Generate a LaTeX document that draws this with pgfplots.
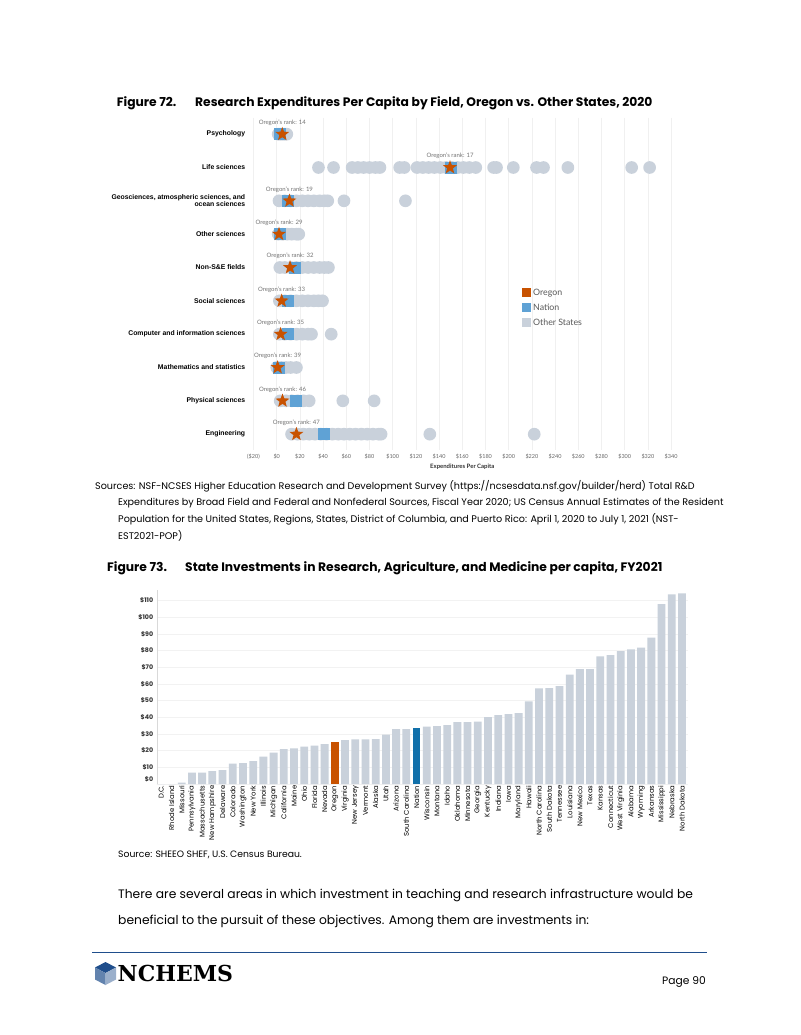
\documentclass[border=0pt]{standalone}
\usepackage{fontspec}
\setmainfont{Poppins}
\newfontfamily\tabfont{Liberation Sans}
\newfontfamily\latofont{Lato}
\newfontfamily\logofont{DejaVu Serif}
\usepackage{pgfplots}
\usepackage{pgfplotstable}
\pgfplotsset{compat=1.18}
\definecolor{orr}{HTML}{C85200}
\definecolor{nat}{HTML}{5FA2D5}
\definecolor{oth}{HTML}{C9D1DB}
\definecolor{natdark}{HTML}{1170AA}
\definecolor{navy}{HTML}{1F4E8C}
\pgfdeclareplotmark{fstar}{%
 \pgfpathmoveto{\pgfpointpolar{90}{\pgfplotmarksize}}%
 \pgfpathlineto{\pgfpointpolar{126}{0.42\pgfplotmarksize}}%
 \pgfpathlineto{\pgfpointpolar{162}{\pgfplotmarksize}}%
 \pgfpathlineto{\pgfpointpolar{198}{0.42\pgfplotmarksize}}%
 \pgfpathlineto{\pgfpointpolar{234}{\pgfplotmarksize}}%
 \pgfpathlineto{\pgfpointpolar{270}{0.42\pgfplotmarksize}}%
 \pgfpathlineto{\pgfpointpolar{306}{\pgfplotmarksize}}%
 \pgfpathlineto{\pgfpointpolar{342}{0.42\pgfplotmarksize}}%
 \pgfpathlineto{\pgfpointpolar{18}{\pgfplotmarksize}}%
 \pgfpathlineto{\pgfpointpolar{54}{0.42\pgfplotmarksize}}%
 \pgfpathclose\pgfusepathqfill}
\pgfdeclareplotmark{fcirc}{\pgfpathcircle{\pgfpointorigin}{\pgfplotmarksize}\pgfusepathqfill}
\pgfdeclareplotmark{fsq}{\pgfpathrectanglecorners{\pgfpoint{-\pgfplotmarksize}{-\pgfplotmarksize}}{\pgfpoint{\pgfplotmarksize}{\pgfplotmarksize}}\pgfusepathqfill}

% Figure 72 data
\pgfplotstableread{
x y
1.3 1
3 1
5 1
7 1
8.7 1
36 2
49 2
65 2
70 2
75 2
80 2
85 2
89 2
106 2
110 2
121 2
126 2
131 2
136 2
141 2
146 2
151 2
156 2
161 2
166 2
171.6 2
187 2
189.5 2
204 2
224 2
230 2
251 2
306 2
321.5 2
2 3
7 3
12 3
17 3
22 3
27 3
32 3
37 3
41 3
44 3
58 3
111 3
1.3 4
5 4
9 4
13 4
17 4
19 4
2.7 5
7 5
12 5
17 5
22 5
27 5
32 5
37 5
41 5
44.6 5
2.3 6
7 6
12 6
17 6
22 6
27 6
32 6
36 6
39.5 6
2.3 7
7 7
12 7
17 7
22 7
27 7
30 7
47 7
0 8
4 8
8 8
12 8
17 8
3 9
8 9
13 9
18 9
23 9
28 9
57 9
84 9
12.8 10
18 10
23 10
28 10
33 10
38 10
43 10
48 10
53 10
58 10
63 10
68 10
73 10
78 10
83 10
88 10
90 10
132 10
222 10
}\others
\pgfplotstableread{
x y
2.5 1
150.5 2
10 3
3 4
16 5
9.7 6
9.5 7
2 8
17 9
41 10
}\nation
\pgfplotstableread{
x y lab
4.8 1 {Oregon’s rank: 14}
149.4 2 {Oregon’s rank: 17}
11 3 {Oregon’s rank: 19}
2 4 {Oregon’s rank: 29}
11.5 5 {Oregon’s rank: 32}
4.3 6 {Oregon’s rank: 33}
3.4 7 {Oregon’s rank: 35}
0.8 8 {Oregon’s rank: 39}
5 9 {Oregon’s rank: 46}
17 10 {Oregon’s rank: 47}
}\oregon

% Figure 73 data
\pgfplotstableread{
i v
0 0
1 0
2 0.8
3 6.8
4 6.8
5 7.8
6 8.4
7 12.2
8 12.6
9 13.8
10 16.4
11 18.8
12 21
13 21.4
14 22.4
15 23
16 24
18 26.4
19 26.8
20 26.8
21 27
22 29.6
23 33
24 33
26 34.4
27 34.8
28 35.4
29 37.2
30 37.2
31 37.4
32 40.2
33 41.4
34 42
35 42.6
36 49.6
37 57.4
38 57.6
39 58.8
40 65.6
41 69
42 69
43 76.6
44 77.4
45 79.8
46 80.8
47 81.8
48 87.8
49 108
50 113.8
51 114.4
}\states
\pgfplotstableread{
i v
17 25
}\orbar
\pgfplotstableread{
i v
25 33.8
}\natbar

\begin{document}
\begin{tikzpicture}[x=1pt,y=-1pt]
\path[use as bounding box, fill=white] (0,0) rectangle (800,1035);

% ---------- Figure 72 title
\node[anchor=west, inner sep=0, font=\fontsize{12.3}{14}\selectfont\bfseries] at (116.7,103) {Figure 72.};
\node[anchor=west, inner sep=0, font=\fontsize{12.3}{14}\selectfont\bfseries] at (195,103) {Research Expenditures Per Capita by Field, Oregon vs. Other States, 2020};

\begin{axis}[
  at={(247.7pt,-117.5pt)}, anchor=north west,
  scale only axis, width=429.2pt, height=332pt,
  xmin=-25, xmax=345, ymin=0.5, ymax=10.46, y dir=reverse,
  axis x line*=bottom, axis y line*=left,
  axis line style={draw=none}, major tick length=0pt,
  xtick={-20,0,...,340},
  xticklabels={(\$20),\$0,\$20,\$40,\$60,\$80,\$100,\$120,\$140,\$160,\$180,\$200,\$220,\$240,\$260,\$280,\$300,\$320,\$340},
  xticklabel style={font=\latofont\fontsize{5.5}{6}\selectfont, text=black!60, yshift=-1pt},
  xmajorgrids, grid style={draw=black!6, line width=0.6pt},
  ytick={1,...,10},
  yticklabels={Psychology, Life sciences, {Geosciences, atmospheric sciences, and\\ocean sciences}, Other sciences, Non-S\&E fields, Social sciences, Computer and information sciences, Mathematics and statistics, Physical sciences, Engineering},
  yticklabel style={font=\tabfont\bfseries\fontsize{6.85}{7.4}\selectfont, align=right, text=black, xshift=1pt},
  xlabel={Expenditures Per Capita},
  xlabel style={font=\latofont\bfseries\fontsize{6}{7}\selectfont, text=black!80, yshift=2pt},
  legend style={at={(0.632,0.497)}, anchor=north west, draw=none, fill=none,
     font=\latofont\fontsize{8.8}{10}\selectfont, text=black!65, row sep=3pt,
     legend cell align=left},
  clip=false,
]
\addplot[only marks, color=oth, mark=fcirc, mark size=6.35pt, forget plot] table[x=x,y=y] {\others};
\addplot[only marks, color=nat, mark=fsq, mark size=6pt, forget plot] table[x=x,y=y] {\nation};
\addplot[only marks, color=orr, mark=fstar, mark size=7.3pt, forget plot,
  nodes near coords, point meta=explicit symbolic,
  every node near coord/.style={anchor=south, inner sep=0pt, yshift=8.4pt, font=\latofont\fontsize{6}{7}\selectfont, text=black!55}]
  table[x=x,y=y,meta=lab] {\oregon};
\addlegendimage{only marks, color=orr, mark=fsq, mark size=4.5pt}
\addlegendentry{Oregon}
\addlegendimage{only marks, color=nat, mark=fsq, mark size=4.5pt}
\addlegendentry{Nation}
\addlegendimage{only marks, color=oth, mark=fsq, mark size=4.5pt}
\addlegendentry{Other States}
\end{axis}

% ---------- Sources
\begin{scope}[every node/.style={anchor=west, inner sep=0, font=\fontsize{9.6}{11}\selectfont}]
\node at (95,486) {Sources: NSF-NCSES Higher Education Research and Development Survey (https://ncsesdata.nsf.gov/builder/herd) Total R\&D};
\node at (118,503) {Expenditures by Broad Field and Federal and Nonfederal Sources, Fiscal Year 2020; US Census Annual Estimates of the Resident};
\node at (118,519.5) {Population for the United States, Regions, States, District of Columbia, and Puerto Rico: April 1, 2020 to July 1, 2021 (NST-};
\node at (118,536) {EST2021-POP)};
\end{scope}

% ---------- Figure 73 title
\node[anchor=west, inner sep=0, font=\fontsize{12.3}{14}\selectfont\bfseries] at (107,568) {Figure 73.};
\node[anchor=west, inner sep=0, font=\fontsize{12.3}{14}\selectfont\bfseries] at (185,568) {State Investments in Research, Agriculture, and Medicine per capita, FY2021};

\begin{axis}[
  at={(156.7pt,-784pt)}, anchor=south west,
  scale only axis, width=531.4pt, height=194pt,
  xmin=-0.45, xmax=51.6, ymin=0, ymax=116.4,
  axis x line*=bottom, axis y line*=left,
  axis line style={draw=black!15}, major tick length=0pt,
  ytick={10,20,...,110},
  yticklabels={\$10,\$20,\$30,\$40,\$50,\$60,\$70,\$80,\$90,\$100,\$110},
  extra y ticks={0}, extra y tick labels={\$0},
  extra y tick style={yticklabel style={yshift=4.5pt}},
  yticklabel style={font=\fontsize{6.3}{7}\selectfont\bfseries, text=black!80},
  ymajorgrids, grid style={draw=black!5, line width=0.6pt},
  xtick={0,...,51},
  xticklabels={D.C., Rhode Island, Missouri, Pennsylvania, Massachusetts, New Hampshire, Delaware, Colorado, Washington, New York, Illinois, Michigan, California, Maine, Ohio, Florida, Nevada, Oregon, Virginia, New Jersey, Vermont, Alaska, Utah, Arizona, South Carolina, Nation, Wisconsin, Montana, Idaho, Oklahoma, Minnesota, Georgia, Kentucky, Indiana, Iowa, Maryland, Hawaii, North Carolina, South Dakota, Tennessee, Louisiana, New Mexico, Texas, Kansas, Connecticut, West Virginia, Alabama, Wyoming, Arkansas, Mississippi, Nebraska, North Dakota},
  xticklabel style={rotate=90, anchor=east, font=\fontsize{6.9}{7.5}\selectfont, text=black, inner sep=1.5pt},
  every axis plot/.append style={ybar, bar width=7.8pt, bar shift=0pt, draw=none},
]
\addplot[fill=oth] table[x=i,y=v] {\states};
\addplot[fill=orr] table[x=i,y=v] {\orbar};
\addplot[fill=natdark] table[x=i,y=v] {\natbar};
\end{axis}

\node[anchor=west, inner sep=0, font=\fontsize{9.25}{11}\selectfont] at (118,855) {Source: SHEEO SHEF, U.S. Census Bureau.};

\node[anchor=west, inner sep=0, font=\fontsize{12.3}{14}\selectfont] at (118,895) {There are several areas in which investment in teaching and research infrastructure would be};
\node[anchor=west, inner sep=0, font=\fontsize{12.3}{14}\selectfont] at (118,921) {beneficial to the pursuit of these objectives. Among them are investments in:};

\draw[navy, line width=1pt] (92,952) -- (707,952);

% logo
\fill[navy] (105.5,962) -- (116,967.5) -- (105.5,973) -- (95,967.5) -- cycle;
\fill[navy!70!white] (95,967.5) -- (105.5,973) -- (105.5,985) -- (95,979.5) -- cycle;
\fill[navy!45!white] (105.5,973) -- (116,967.5) -- (116,979.5) -- (105.5,985) -- cycle;
\node[anchor=west, inner sep=0, font=\logofont\bfseries\fontsize{22}{24}\selectfont] at (117.5,973) {NCHEMS};

\node[anchor=east, inner sep=0, font=\fontsize{10.7}{12}\selectfont] at (706,982) {Page 90};
\end{tikzpicture}
\end{document}
